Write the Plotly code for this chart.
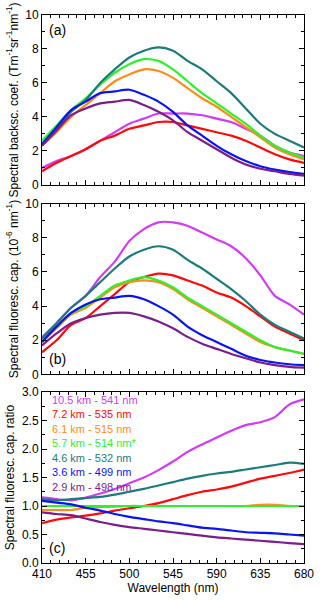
import plotly.graph_objects as go

wl = [410, 425, 440, 455, 470, 485, 500, 515, 530, 545, 560, 575, 590, 605, 620, 635, 650, 665, 680]

labels = ["10.5 km - 541 nm", "7.2 km - 535 nm", "6.1 km - 515 nm", "5.7 km - 514 nm*",
          "4.6 km - 532 nm", "3.6 km - 499 nm", "2.9 km - 498 nm"]
colors = ["#D23BF5", "#FF0A0A", "#FF8C1A", "#2EF02E", "#1E7B7B", "#0A14F0", "#7A1E8C"]

# (a) spectral backscatter coefficient
backsc = [
    [1.0, 1.4, 1.7, 2.1, 2.6, 3.1, 3.6, 3.9, 4.2, 4.2, 4.2, 4.1, 3.9, 3.7, 3.3, 2.9, 2.3, 1.9, 1.7],
    [0.8, 1.3, 1.7, 2.1, 2.6, 2.9, 3.3, 3.5, 3.7, 3.7, 3.5, 3.3, 3.1, 2.9, 2.6, 2.2, 1.8, 1.5, 1.3],
    [2.3, 3.1, 4.0, 4.7, 5.4, 6.1, 6.5, 6.8, 6.7, 6.3, 5.7, 5.1, 4.6, 4.0, 3.4, 2.8, 2.2, 1.8, 1.5],
    [2.6, 3.5, 4.4, 5.1, 5.9, 6.6, 7.1, 7.4, 7.3, 6.8, 6.1, 5.4, 4.8, 4.2, 3.6, 2.9, 2.3, 1.9, 1.6],
    [2.4, 3.3, 4.3, 5.0, 6.0, 6.8, 7.5, 7.9, 8.1, 7.9, 7.3, 6.8, 6.1, 5.4, 4.5, 3.6, 3.0, 2.6, 2.2],
    [2.4, 3.4, 4.4, 4.9, 5.4, 5.5, 5.6, 5.3, 4.9, 4.3, 3.5, 2.9, 2.3, 1.8, 1.4, 1.1, 0.9, 0.75, 0.65],
    [2.3, 3.2, 4.1, 4.5, 4.8, 4.9, 5.0, 4.7, 4.3, 3.8, 3.1, 2.6, 2.1, 1.6, 1.2, 0.95, 0.8, 0.65, 0.55],
]

# (b) spectral fluorescence capacity
fluor = [
    [2.2, 3.0, 3.9, 4.6, 5.7, 6.6, 7.8, 8.5, 8.9, 8.9, 8.7, 8.3, 7.9, 7.5, 6.8, 5.8, 4.6, 4.1, 3.5],
    [1.3, 2.0, 2.9, 3.3, 4.0, 4.7, 5.4, 5.7, 5.9, 5.8, 5.5, 5.2, 4.8, 4.5, 4.0, 3.4, 2.8, 2.4, 2.0],
    [1.9, 2.7, 3.5, 3.9, 4.5, 5.1, 5.4, 5.5, 5.4, 5.0, 4.4, 3.9, 3.4, 2.9, 2.4, 1.9, 1.6, 1.4, 1.2],
    [2.0, 2.8, 3.6, 4.0, 4.6, 5.2, 5.5, 5.7, 5.5, 5.1, 4.5, 4.0, 3.5, 3.0, 2.5, 2.0, 1.6, 1.4, 1.2],
    [2.1, 3.0, 3.9, 4.6, 5.4, 6.2, 6.9, 7.3, 7.5, 7.3, 6.7, 6.2, 5.6, 5.0, 4.3, 3.5, 2.9, 2.5, 2.1],
    [1.9, 2.8, 3.6, 4.1, 4.4, 4.5, 4.6, 4.4, 4.0, 3.5, 2.8, 2.3, 1.9, 1.5, 1.1, 0.85, 0.7, 0.6, 0.55],
    [1.7, 2.4, 3.0, 3.3, 3.5, 3.6, 3.6, 3.4, 3.1, 2.7, 2.2, 1.8, 1.5, 1.2, 0.95, 0.7, 0.55, 0.45, 0.4],
]

# (c) ratio
ratio = [
    [1.15, 1.12, 1.10, 1.15, 1.22, 1.30, 1.40, 1.50, 1.63, 1.78, 1.95, 2.08, 2.20, 2.32, 2.42, 2.47, 2.56, 2.78, 2.87],
    [0.70, 0.76, 0.80, 0.83, 0.87, 0.92, 0.96, 1.00, 1.05, 1.12, 1.19, 1.25, 1.29, 1.34, 1.41, 1.48, 1.53, 1.58, 1.64],
    [0.93, 0.93, 0.93, 0.97, 0.98, 0.99, 1.00, 1.00, 1.00, 1.00, 1.00, 1.00, 1.00, 1.00, 1.00, 1.02, 1.02, 1.00, 1.00],
    [1.0] * 19,
    [1.12, 1.10, 1.12, 1.14, 1.16, 1.20, 1.25, 1.30, 1.36, 1.42, 1.48, 1.53, 1.57, 1.60, 1.64, 1.68, 1.72, 1.76, 1.74],
    [1.09, 1.06, 1.03, 0.97, 0.92, 0.86, 0.81, 0.77, 0.73, 0.70, 0.66, 0.62, 0.60, 0.57, 0.54, 0.53, 0.52, 0.50, 0.48],
    [0.89, 0.86, 0.84, 0.78, 0.72, 0.67, 0.63, 0.60, 0.57, 0.54, 0.51, 0.48, 0.45, 0.43, 0.41, 0.39, 0.37, 0.35, 0.33],
]

xticks = [410, 455, 500, 545, 590, 635, 680]

fig = go.Figure()
panels = [(backsc, "x", "y"), (fluor, "x2", "y2"), (ratio, "x3", "y3")]
for data, xa, ya in panels:
    for i, ys in enumerate(data):
        fig.add_trace(go.Scatter(x=wl, y=ys, mode="lines", xaxis=xa, yaxis=ya,
                                 line=dict(color=colors[i], width=2.2, shape="spline", smoothing=0.8),
                                 showlegend=False, hoverinfo="skip"))

font = dict(family="Liberation Sans, Arial, sans-serif", size=12, color="black")

def xax(anchor, show):
    return dict(range=[410, 680], tickvals=xticks, showticklabels=show, ticks="inside", ticklen=5,
                tickcolor="black", showline=True, linecolor="black", linewidth=1, mirror="allticks",
                showgrid=False, zeroline=False, anchor=anchor,
                minor=dict(tick0=410, dtick=9, ticks="inside", ticklen=3, tickcolor="black", showgrid=False),
                tickfont=font)

def yax(domain, rng, dtick, minor, title):
    return dict(domain=domain, range=rng, dtick=dtick, tick0=0, ticks="inside", ticklen=5,
                tickcolor="black", showline=True, linecolor="black", linewidth=1, mirror="allticks",
                showgrid=False, zeroline=False, tickfont=font,
                minor=dict(dtick=minor, ticks="inside", ticklen=3, tickcolor="black", showgrid=False),
                title=dict(text=title, font=dict(family=font["family"], size=12, color="black"), standoff=4))

fig.update_layout(
    width=322, height=600,
    margin=dict(l=42, r=12, t=8, b=37),
    plot_bgcolor="white", paper_bgcolor="white",
    font=font,
    xaxis=xax("y", False),
    xaxis2=xax("y2", False),
    xaxis3=dict(xax("y3", True), title=dict(text="Wavelength (nm)", font=dict(size=12), standoff=2)),
    yaxis=yax([0.690, 1.0], [0, 10], 2, 1, "Spectral backsc. coef. (Tm<sup>-1</sup>sr<sup>-1</sup>nm<sup>-1</sup>)"),
    yaxis2=yax([0.344, 0.656], [0, 10], 2, 1, "Spectral fluoresc. cap. (10<sup>-6</sup> nm<sup>-1</sup>)"),
    yaxis3=yax([0.0, 0.312], [0, 3], 0.5, 0.25, "Spectral fluoresc. cap. ratio"),
)
fig.update_layout(yaxis3=dict(tickformat=".1f"))

fig.add_annotation(x=0.02, y=0.97, xref="x domain", yref="y domain", text="(a)", showarrow=False,
                   xanchor="left", yanchor="top", font=dict(size=14))
fig.add_annotation(x=0.02, y=0.03, xref="x2 domain", yref="y2 domain", text="(b)", showarrow=False,
                   xanchor="left", yanchor="bottom", font=dict(size=14))
fig.add_annotation(x=0.02, y=0.03, xref="x3 domain", yref="y3 domain", text="(c)", showarrow=False,
                   xanchor="left", yanchor="bottom", font=dict(size=14))

for i, lab in enumerate(labels):
    fig.add_annotation(x=0.03, y=0.955 - i * 0.085, xref="x3 domain", yref="y3 domain", text=lab,
                       showarrow=False, xanchor="left", yanchor="middle",
                       font=dict(size=11, color=colors[i]))

# page body has a default 8px margin that pushes the figure off the window
fig.write_html("out.html", config={"displayModeBar": False},
               post_script="document.body.style.margin='0';")
